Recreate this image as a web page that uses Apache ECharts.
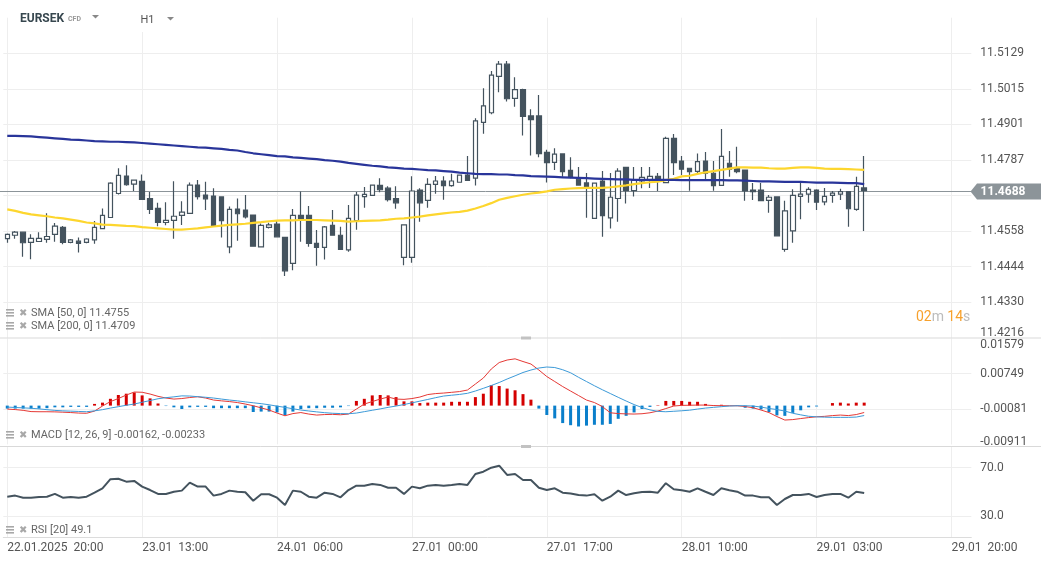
<!DOCTYPE html>
<html>
<head>
<meta charset="utf-8">
<title>EURSEK H1</title>
<script src="https://cdn.jsdelivr.net/npm/echarts@6/dist/echarts.min.js"></script>
<style>
  html, body { margin: 0; padding: 0; background: #fff; }
  #main { width: 1041px; height: 563px; }
</style>
</head>
<body>
<div id="main"></div>
<script>
// hourly candles, market closed over the weekend (Fri 23:00 -> Mon 00:00)
function hourLabels(start, count) {
  const out = [];
  const t0 = Date.parse(start);
  const p = n => String(n).padStart(2, '0');
  for (let i = 0; i < count; i++) {
    const d = new Date(t0 + i * 3600e3);
    out.push(p(d.getUTCDate()) + '.' + p(d.getUTCMonth() + 1) + '.' + d.getUTCFullYear() + ' ' + p(d.getUTCHours()) + ':00');
  }
  return out;
}
const categories = hourLabels('2025-01-22T20:00:00Z', 51).concat(hourLabels('2025-01-27T00:00:00Z', 71));

// [open, close, low, high]
const candles = [
  [11.4534,11.4548,11.4521,11.4551],[11.4545,11.4555,11.4534,11.4559],[11.4555,11.4521,11.4476,11.4555],[11.4522,11.4535,11.4468,11.4548],
  [11.4525,11.4535,11.4525,11.4555],[11.4532,11.4541,11.4521,11.4616],[11.4548,11.4574,11.4524,11.4584],[11.4570,11.4522,11.4516,11.4575],
  [11.4522,11.4530,11.4519,11.4533],[11.4526,11.4519,11.4490,11.4538],[11.4522,11.4533,11.4519,11.4535],[11.4530,11.4570,11.4518,11.4591],
  [11.4566,11.4609,11.4566,11.4631],[11.4602,11.4712,11.4602,11.4715],[11.4679,11.4737,11.4676,11.4760],[11.4735,11.4707,11.4704,11.4770],
  [11.4709,11.4722,11.4687,11.4724],[11.4718,11.4660,11.4660,11.4740],[11.4663,11.4628,11.4613,11.4684],[11.4631,11.4586,11.4574,11.4649],
  [11.4586,11.4593,11.4577,11.4651],[11.4593,11.4606,11.4534,11.4718],[11.4609,11.4619,11.4578,11.4654],[11.4615,11.4706,11.4615,11.4714],
  [11.4706,11.4669,11.4660,11.4722],[11.4674,11.4662,11.4626,11.4717],[11.4671,11.4575,11.4575,11.4696],[11.4668,11.4592,11.4538,11.4668],
  [11.4508,11.4628,11.4487,11.4637],[11.4629,11.4614,11.4527,11.4663],[11.4626,11.4604,11.4599,11.4674],[11.4610,11.4510,11.4508,11.4610],
  [11.4508,11.4577,11.4508,11.4583],[11.4570,11.4578,11.4567,11.4585],[11.4581,11.4540,11.4538,11.4594],[11.4538,11.4431,11.4414,11.4538],
  [11.4455,11.4609,11.4433,11.4629],[11.4609,11.4597,11.4524,11.4685],[11.4609,11.4519,11.4508,11.4639],[11.4519,11.4506,11.4447,11.4562],
  [11.4506,11.4572,11.4467,11.4575],[11.4577,11.4545,11.4545,11.4626],[11.4545,11.4500,11.4500,11.4572],[11.4498,11.4599,11.4492,11.4642],
  [11.4592,11.4674,11.4563,11.4684],[11.4669,11.4676,11.4633,11.4700],[11.4673,11.4706,11.4673,11.4706],[11.4705,11.4691,11.4683,11.4728],
  [11.4696,11.4659,11.4653,11.4702],[11.4663,11.4649,11.4630,11.4702],[11.4474,11.4578,11.4449,11.4578],[11.4474,11.4687,11.4457,11.4734],
  [11.4690,11.4649,11.4588,11.4696],[11.4657,11.4708,11.4633,11.4728],[11.4708,11.4719,11.4678,11.4735],[11.4719,11.4704,11.4659,11.4734],
  [11.4704,11.4719,11.4701,11.4742],[11.4715,11.4738,11.4715,11.4738],[11.4738,11.4721,11.4721,11.4799],[11.4728,11.4912,11.4705,11.4920],
  [11.4907,11.4960,11.4871,11.5017],[11.4938,11.5059,11.4933,11.5072],[11.5055,11.5094,11.5004,11.5104],[11.5094,11.4983,11.4974,11.5104],
  [11.4984,11.5012,11.4957,11.5052],[11.5012,11.4926,11.4865,11.5015],[11.4928,11.4916,11.4801,11.4949],[11.4928,11.4807,11.4795,11.4995],
  [11.4811,11.4778,11.4714,11.4819],[11.4779,11.4805,11.4754,11.4824],[11.4806,11.4749,11.4733,11.4806],[11.4753,11.4732,11.4728,11.4795],
  [11.4725,11.4706,11.4706,11.4764],[11.4713,11.4702,11.4601,11.4745],[11.4599,11.4712,11.4599,11.4712],[11.4719,11.4608,11.4540,11.4751],
  [11.4601,11.4667,11.4567,11.4745],[11.4663,11.4751,11.4588,11.4760],[11.4763,11.4688,11.4647,11.4763],[11.4688,11.4721,11.4669,11.4764],
  [11.4719,11.4731,11.4696,11.4764],[11.4722,11.4734,11.4697,11.4764],[11.4734,11.4722,11.4687,11.4745],[11.4714,11.4856,11.4714,11.4861],
  [11.4856,11.4778,11.4738,11.4870],[11.4783,11.4757,11.4738,11.4799],[11.4760,11.4749,11.4688,11.4760],[11.4750,11.4781,11.4738,11.4807],
  [11.4783,11.4744,11.4724,11.4812],[11.4744,11.4704,11.4688,11.4783],[11.4705,11.4798,11.4705,11.4886],[11.4776,11.4757,11.4733,11.4815],
  [11.4762,11.4749,11.4744,11.4829],[11.4754,11.4687,11.4656,11.4754],[11.4690,11.4685,11.4658,11.4713],[11.4690,11.4656,11.4656,11.4713],
  [11.4657,11.4667,11.4617,11.4674],[11.4668,11.4543,11.4543,11.4668],[11.4500,11.4623,11.4492,11.4656],[11.4559,11.4673,11.4521,11.4693],
  [11.4670,11.4677,11.4596,11.4718],[11.4677,11.4692,11.4649,11.4699],[11.4690,11.4651,11.4626,11.4693],[11.4652,11.4670,11.4641,11.4697],
  [11.4673,11.4680,11.4649,11.4687],[11.4677,11.4685,11.4658,11.4694],[11.4685,11.4630,11.4572,11.4685],[11.4628,11.4702,11.4624,11.4733],
  [11.4697,11.4688,11.4559,11.4799]
];

const sma50 = [
  11.4628,11.4623,11.4617,11.4612,11.4609,11.4606,11.4602,11.4599,11.4595,11.4591,
  11.4586,11.4583,11.4579,11.4578,11.4577,11.4575,11.4574,11.4571,11.4569,11.4567,
  11.4565,11.4563,11.4563,11.4565,11.4567,11.4570,11.4573,11.4576,11.4578,11.4580,
  11.4582,11.4585,11.4587,11.4590,11.4592,11.4593,11.4593,11.4594,11.4594,11.4594,
  11.4593,11.4592,11.4591,11.4589,11.4590,11.4591,11.4592,11.4593,11.4595,11.4598,
  11.4599,11.4602,11.4605,11.4609,11.4612,11.4615,11.4618,11.4620,11.4624,11.4631,
  11.4639,11.4648,11.4659,11.4665,11.4670,11.4675,11.4679,11.4682,11.4686,11.4691,
  11.4693,11.4695,11.4696,11.4697,11.4697,11.4697,11.4699,11.4702,11.4705,11.4709,
  11.4712,11.4715,11.4717,11.4722,11.4726,11.4734,11.4736,11.4742,11.4747,11.4751,
  11.4755,11.4759,11.4763,11.4763,11.4762,11.4762,11.4760,11.4759,11.4759,11.4761,
  11.4763,11.4763,11.4761,11.4759,11.4758,11.4758,11.4757,11.4756,11.4755
];

const sma200 = [
  11.4864,11.4864,11.4863,11.4862,11.4860,11.4858,11.4856,11.4854,11.4852,11.4851,
  11.4849,11.4847,11.4846,11.4845,11.4845,11.4844,11.4843,11.4841,11.4839,11.4837,
  11.4835,11.4833,11.4831,11.4829,11.4827,11.4826,11.4824,11.4822,11.4819,11.4817,
  11.4812,11.4808,11.4805,11.4802,11.4799,11.4798,11.4795,11.4793,11.4791,11.4789,
  11.4786,11.4784,11.4781,11.4777,11.4774,11.4771,11.4768,11.4766,11.4763,11.4761,
  11.4759,11.4758,11.4756,11.4754,11.4753,11.4751,11.4749,11.4746,11.4744,11.4742,
  11.4741,11.4741,11.4740,11.4740,11.4738,11.4737,11.4735,11.4734,11.4733,11.4732,
  11.4731,11.4730,11.4729,11.4728,11.4727,11.4726,11.4725,11.4724,11.4724,11.4723,
  11.4723,11.4723,11.4723,11.4723,11.4723,11.4722,11.4722,11.4722,11.4722,11.4722,
  11.4722,11.4721,11.4721,11.4720,11.4719,11.4718,11.4718,11.4717,11.4716,11.4716,
  11.4716,11.4715,11.4714,11.4714,11.4714,11.4713,11.4712,11.4712,11.4709
];

const macdLine = [
  -0.00081,-0.00093,-0.00111,-0.00140,-0.00144,-0.00144,-0.00147,-0.00154,-0.00163,-0.00175,
  -0.00180,-0.00128,-0.00010,0.00095,0.00166,0.00248,0.00319,0.00314,0.00272,0.00218,
  0.00178,0.00154,0.00166,0.00190,0.00208,0.00178,0.00131,0.00112,0.00095,0.00072,
  0.00037,-0.00003,-0.00053,-0.00104,-0.00175,-0.00238,-0.00187,-0.00163,-0.00198,-0.00222,
  -0.00210,-0.00206,-0.00215,-0.00198,-0.00081,0.00037,0.00095,0.00154,0.00201,0.00154,
  0.00147,0.00166,0.00201,0.00260,0.00283,0.00295,0.00312,0.00330,0.00366,0.00507,
  0.00648,0.00860,0.01012,0.01071,0.01099,0.01036,0.00977,0.00836,0.00683,0.00566,
  0.00448,0.00342,0.00237,0.00131,0.00072,-0.00022,-0.00168,-0.00187,-0.00194,-0.00198,
  -0.00191,-0.00168,-0.00128,-0.00069,-0.00010,0.00006,0.00009,0.00013,0.00013,0.00002,
  -0.00003,-0.00003,-0.00003,-0.00022,-0.00050,-0.00104,-0.00163,-0.00257,-0.00339,-0.00328,
  -0.00304,-0.00281,-0.00262,-0.00252,-0.00234,-0.00222,-0.00234,-0.00210,-0.00162
];

const signalLine = [
  -0.00034,-0.00044,-0.00053,-0.00062,-0.00077,-0.00095,-0.00112,-0.00123,-0.00130,-0.00137,
  -0.00144,-0.00123,-0.00095,-0.00058,-0.00025,0.00008,0.00037,0.00079,0.00119,0.00161,
  0.00187,0.00206,0.00229,0.00225,0.00210,0.00196,0.00178,0.00154,0.00131,0.00112,
  0.00088,0.00067,0.00046,0.00020,-0.00013,-0.00041,-0.00074,-0.00104,-0.00126,-0.00147,
  -0.00166,-0.00180,-0.00187,-0.00191,-0.00175,-0.00142,-0.00109,-0.00077,-0.00041,-0.00010,
  0.00025,0.00065,0.00105,0.00145,0.00187,0.00225,0.00244,0.00263,0.00289,0.00343,
  0.00406,0.00472,0.00543,0.00625,0.00700,0.00778,0.00836,0.00883,0.00907,0.00895,
  0.00843,0.00771,0.00665,0.00566,0.00467,0.00373,0.00284,0.00195,0.00108,0.00025,
  -0.00046,-0.00100,-0.00135,-0.00144,-0.00133,-0.00121,-0.00107,-0.00081,-0.00058,-0.00041,
  -0.00025,-0.00010,-0.00003,-0.00003,-0.00010,-0.00034,-0.00067,-0.00093,-0.00128,-0.00180,
  -0.00217,-0.00250,-0.00264,-0.00271,-0.00276,-0.00276,-0.00276,-0.00269,-0.00233
];

const macdHist = [
  -0.0007,-0.0007,-0.0007,-0.0007,-0.0007,-0.0006,-0.0004,-0.0004,-0.0003,-0.0003,
  -0.0003,0.0004,0.0007,0.0016,0.0025,0.0028,0.0031,0.0024,0.0017,0.0005,
  -0.0001,-0.0004,-0.0008,-0.0004,-0.0003,-0.0003,-0.0006,-0.0006,-0.0006,-0.0006,
  -0.0006,-0.0015,-0.0014,-0.0014,-0.0016,-0.0022,-0.0014,-0.0008,-0.0006,-0.0006,
  -0.0005,-0.0005,-0.0004,-0.0001,0.0011,0.0016,0.0024,0.0025,0.0024,0.0020,
  0.0010,0.0010,0.0006,0.0007,0.0007,0.0007,0.0009,0.0009,0.0009,0.0020,
  0.0028,0.0048,0.0046,0.0040,0.0036,0.0027,0.0014,-0.0007,-0.0022,-0.0030,
  -0.0041,-0.0046,-0.0049,-0.0047,-0.0045,-0.0045,-0.0043,-0.0031,-0.0024,-0.0016,
  -0.0008,-0.0003,0.0001,0.0011,0.0011,0.0011,0.0009,0.0009,0.0004,0.0001,
  0.0002,0.0000,-0.0001,-0.0005,-0.0007,-0.0009,-0.0015,-0.0023,-0.0024,-0.0017,
  -0.0011,-0.0004,-0.0002,0.0000,0.0006,0.0007,0.0005,0.0007,0.0007
];

const rsi = [
  46.1,47.0,45.3,45.3,45.9,46.1,48.4,45.3,45.9,45.3,
  46.1,49.4,53.0,60.5,60.9,58.5,59.1,54.4,51.6,48.4,
  48.4,50.2,51.1,57.7,54.4,54.4,47.0,48.4,51.1,50.2,
  49.8,42.8,48.1,48.1,45.3,39.3,51.1,50.2,46.1,45.3,
  49.4,48.4,45.6,51.6,55.2,55.2,56.6,55.8,53.5,53.5,
  48.4,54.4,53.0,55.2,55.8,55.2,55.8,56.6,55.8,64.8,
  66.7,70.0,71.6,64.0,64.8,59.9,59.9,53.5,51.6,53.0,
  49.4,48.8,47.5,47.0,48.1,42.8,46.1,51.1,47.5,48.9,
  50.0,50.2,49.4,57.2,52.2,51.4,50.2,53.0,50.2,47.5,
  53.0,51.4,50.2,47.0,47.0,45.6,45.6,39.3,44.2,47.5,
  47.5,48.4,45.9,47.5,48.4,48.4,45.3,50.2,49.1
];

// axis scales
const priceMin = 11.4216, priceStep = 0.011414, priceMax = 11.5243;
const macdMin = -0.00911, macdStep = 0.0083, macdMax = 0.01579;
const rsiTicks = [30, 70];

const FONT = 'Roboto, "Noto Sans", sans-serif';
const GRID_COLOR = '#eeeeee';
const INK = '#44535e';

const chart = echarts.init(document.getElementById('main'));

function xAxisFor(gridIndex, showLabels) {
  return {
    type: 'category', gridIndex: gridIndex, data: categories, boundaryGap: true,
    axisLine: { show: showLabels, lineStyle: { color: '#dcdcdc' } },
    axisTick: { show: false, interval: 16, alignWithLabel: true },
    splitLine: { show: true, interval: 16, alignWithLabel: true, lineStyle: { color: GRID_COLOR } },
    axisLabel: showLabels ? {
      show: true, interval: 16, align: 'left', margin: 5,
      color: '#555', fontSize: 12, fontFamily: FONT,
      formatter: (val, idx) => {
        const parts = val.split(' ');
        return (idx === 0 ? parts[0] : parts[0].slice(0, 5)) + '  ' + parts[1];
      }
    } : { show: false }
  };
}

const option = {
  animation: false,
  backgroundColor: '#fff',
  grid: [
    { left: 3.3, width: 968, top: 17.7, height: 320.1 },
    { left: 3.3, width: 968, top: 338.4, height: 106 },
    { left: 3.3, width: 968, top: 447, height: 90.3 }
  ],
  xAxis: [xAxisFor(0, false), xAxisFor(1, false), xAxisFor(2, true)],
  yAxis: [
    {
      type: 'value', gridIndex: 0, position: 'right',
      min: priceMin, max: priceMax, interval: priceStep,
      axisLine: { show: false }, axisTick: { show: false },
      splitLine: { lineStyle: { color: GRID_COLOR }, showMaxLine: false, showMinLine: false },
      axisLabel: {
        margin: 9, color: '#555', fontSize: 12, fontFamily: FONT,
        formatter: v => {
          if (v > 11.52 || Math.abs(v - 11.4673) < 0.0005) return '';
          const s = v.toFixed(4);
          return v < 11.425 ? '{lo|' + s + '}' : s;
        },
        rich: { lo: { padding: [0, 0, 10, 0], fontSize: 12, color: '#555', fontFamily: FONT } }
      }
    },
    {
      type: 'value', gridIndex: 1, position: 'right',
      min: macdMin, max: macdMax, interval: macdStep,
      axisLine: { show: false }, axisTick: { show: false },
      splitLine: { lineStyle: { color: GRID_COLOR }, showMaxLine: false, showMinLine: false },
      axisLabel: {
        margin: 9, color: '#555', fontSize: 12, fontFamily: FONT,
        formatter: v => {
          const s = v.toFixed(5);
          if (v > 0.015) return '{hi|' + s + '}';
          if (v < -0.009) return '{lo|' + s + '}';
          return s;
        },
        rich: {
          hi: { padding: [14, 0, 0, 0], fontSize: 12, color: '#555', fontFamily: FONT },
          lo: { padding: [0, 0, 5, 0], fontSize: 12, color: '#555', fontFamily: FONT }
        }
      }
    },
    {
      type: 'value', gridIndex: 2, position: 'right', min: 12.7, max: 87,
      axisLine: { show: false },
      axisTick: { show: false, customValues: rsiTicks },
      splitLine: { lineStyle: { color: GRID_COLOR } },
      axisLabel: {
        customValues: rsiTicks, margin: 9, color: '#555', fontSize: 12, fontFamily: FONT,
        formatter: v => v.toFixed(1)
      }
    }
  ],
  series: [
    {
      name: 'EURSEK', type: 'candlestick', xAxisIndex: 0, yAxisIndex: 0,
      data: candles, barWidth: 5, clip: false, z: 2,
      itemStyle: { color: '#ffffff', color0: INK, borderColor: INK, borderColor0: INK, borderWidth: 1.2 }
    },
    {
      name: 'SMA 50', type: 'line', xAxisIndex: 0, yAxisIndex: 0, data: sma50,
      symbol: 'none', z: 3, lineStyle: { color: '#fdd62e', width: 2.2 }
    },
    {
      name: 'SMA 200', type: 'line', xAxisIndex: 0, yAxisIndex: 0, data: sma200,
      symbol: 'none', z: 3, lineStyle: { color: '#29359a', width: 2.2 }
    },
    {
      name: 'Histogram', type: 'bar', xAxisIndex: 1, yAxisIndex: 1, data: macdHist, barWidth: 3,
      itemStyle: { color: p => (p.value >= 0 ? '#d40000' : '#0a7fcb') }
    },
    {
      name: 'MACD', type: 'line', xAxisIndex: 1, yAxisIndex: 1, data: macdLine,
      symbol: 'none', z: 3, lineStyle: { color: '#e53935', width: 1 }
    },
    {
      name: 'Signal', type: 'line', xAxisIndex: 1, yAxisIndex: 1, data: signalLine,
      symbol: 'none', z: 3, lineStyle: { color: '#3c9ad8', width: 1 }
    },
    {
      name: 'RSI', type: 'line', xAxisIndex: 2, yAxisIndex: 2, data: rsi,
      symbol: 'none', lineStyle: { color: INK, width: 2 }
    }
  ]
};
chart.setOption(option);

// overlay: header, indicator legends, price tag, panel separators
const lastClose = candles[candles.length - 1][1];
const py = Math.round(chart.convertToPixel({ yAxisIndex: 0 }, lastClose)) + 0.5;
const legendStyle = { fill: '#666', font: '11px ' + FONT };

function legendRow(y, text) {
  return [
    { type: 'rect', shape: { x: 6, y: y - 4, width: 8, height: 1.6 }, style: { fill: '#a8a8a8' }, z: 20 },
    { type: 'rect', shape: { x: 6, y: y - 1, width: 8, height: 1.6 }, style: { fill: '#a8a8a8' }, z: 20 },
    { type: 'rect', shape: { x: 6, y: y + 2, width: 8, height: 1.6 }, style: { fill: '#a8a8a8' }, z: 20 },
    { type: 'text', x: 19, y: y, style: { text: '✖', fill: '#a8a8a8', font: '10px "DejaVu Sans"', verticalAlign: 'middle' }, z: 20 },
    { type: 'text', x: 31, y: y, style: Object.assign({ text: text, verticalAlign: 'middle' }, legendStyle), z: 20 }
  ];
}

const graphics = [
  { type: 'rect', shape: { x: 125, y: 0, width: 60, height: 32 }, style: { fill: '#fff' }, z: 15 },
  { type: 'text', x: 20, y: 18.5, style: { text: 'EURSEK', fill: '#37474f', font: 'bold 12px ' + FONT, verticalAlign: 'middle' }, z: 20 },
  { type: 'text', x: 68, y: 19.5, style: { text: 'CFD', fill: '#999', font: 'bold 7px ' + FONT, verticalAlign: 'middle' }, z: 20 },
  { type: 'polygon', shape: { points: [[92, 15], [99, 15], [95.5, 18.5]] }, style: { fill: '#888' }, z: 20 },
  { type: 'text', x: 140.5, y: 20.5, style: { text: 'H1', fill: '#555', font: '11px ' + FONT, verticalAlign: 'middle' }, z: 20 },
  { type: 'polygon', shape: { points: [[167, 17], [174, 17], [170.5, 20.5]] }, style: { fill: '#888' }, z: 20 },

  { type: 'line', shape: { x1: 0, y1: py, x2: 971, y2: py }, style: { stroke: '#8c9499', lineWidth: 1 }, z: 1 },
  { type: 'polygon', shape: { points: [[970.5, py], [977, py - 8], [1041, py - 8], [1041, py + 8], [977, py + 8]] }, style: { fill: '#8c9499' }, z: 20 },
  { type: 'text', x: 1003, y: py, style: { text: lastClose.toFixed(4), fill: '#fff', font: 'bold 12px ' + FONT, align: 'center', verticalAlign: 'middle' }, z: 21 },

  { type: 'line', shape: { x1: 0, y1: 338, x2: 1041, y2: 338 }, style: { stroke: '#d9d9d9', lineWidth: 1 }, z: 5 },
  { type: 'line', shape: { x1: 0, y1: 446.5, x2: 1041, y2: 446.5 }, style: { stroke: '#d9d9d9', lineWidth: 1 }, z: 5 },
  { type: 'rect', shape: { x: 521, y: 336.5, width: 10, height: 3 }, style: { fill: '#c2c2c2' }, z: 6 },
  { type: 'rect', shape: { x: 521, y: 445, width: 10, height: 3 }, style: { fill: '#c2c2c2' }, z: 6 },

  {
    type: 'text', x: 916, y: 317,
    style: {
      text: '{o|02}{g|m} {o|14}{g|s}', verticalAlign: 'middle',
      rich: {
        o: { fill: '#f7a12d', font: '14px ' + FONT },
        g: { fill: '#bcbcbc', font: '14px ' + FONT }
      }
    },
    z: 20
  }
]
  .concat(legendRow(313, 'SMA [50, 0] ' + sma50[sma50.length - 1].toFixed(4)))
  .concat(legendRow(326, 'SMA [200, 0] ' + sma200[sma200.length - 1].toFixed(4)))
  .concat(legendRow(435, 'MACD [12, 26, 9] ' + macdLine[macdLine.length - 1].toFixed(5) + ', ' + signalLine[signalLine.length - 1].toFixed(5)))
  .concat(legendRow(530, 'RSI [20] ' + rsi[rsi.length - 1].toFixed(1)));

chart.setOption({ graphic: graphics });
</script>
</body>
</html>
